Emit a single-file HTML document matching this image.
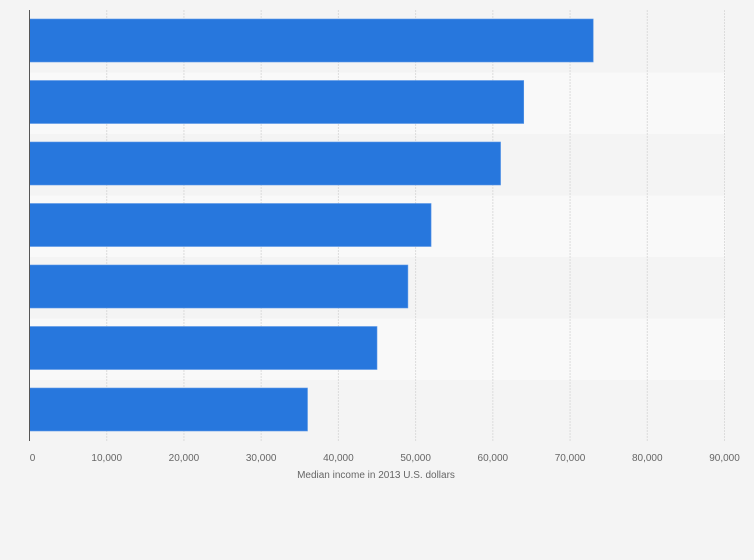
<!DOCTYPE html>
<html><head><meta charset="utf-8"><style>
html,body{margin:0;padding:0;background:#f4f4f4;}
svg{display:block;font-family:"Liberation Sans",sans-serif;}
</style></head><body>
<svg id="c" width="754" height="560"></svg>
<script>
const categories=["Group 1","Group 2","Group 3","Group 4","Group 5","Group 6","Group 7"];
const values=[73000,64000,61000,52000,49000,45000,36000];
const ticks=[0,10000,20000,30000,40000,50000,60000,70000,80000,90000];
const tickLabels=["0","10,000","20,000","30,000","40,000","50,000","60,000","70,000","80,000","90,000"];
const NS="http://www.w3.org/2000/svg";
const svgEl=document.getElementById('c');
const x0=29.5,x1=724.5,plotTop=11,rowH=61.5,maxV=90000;
const xs=v=>x0+(v/maxV)*(x1-x0);
function mk(t,a){const e=document.createElementNS(NS,t);for(const k in a)e.setAttribute(k,a[k]);svgEl.appendChild(e);return e;}
categories.forEach((c,i)=>{
  if(i%2===1){const b=mk('rect',{x:x0,y:plotTop+i*rowH,width:x1-x0+1,height:rowH,fill:'#f9f9f9'});
  
  }
});
ticks.forEach((t,i)=>{
  if(i>0){const g=mk('line',{x1:xs(t),x2:xs(t),y1:10,y2:441,stroke:'#dcdcdc','stroke-dasharray':'2,1'});
  
  }
  const l=mk('text',{x:xs(t)+(i===0?3:0),y:461,'text-anchor':'middle','font-size':'10',fill:'#666'});
  l.textContent=tickLabels[i];
  
  
});
values.forEach((v,i)=>{
  const r=mk('rect',{x:x0,y:plotTop+i*rowH+8,width:xs(v)-x0,height:43,fill:'#2777dd',stroke:'#5b98e6','stroke-width':'0.6'});
  
  
});
const ax=mk('line',{x1:x0,x2:x0,y1:10,y2:441,stroke:'#555','stroke-width':'1'});


const tt=mk('text',{x:376,y:478,'text-anchor':'middle','font-size':'10',fill:'#666'});
tt.textContent="Median income in 2013 U.S. dollars";


</script>
</body></html>
